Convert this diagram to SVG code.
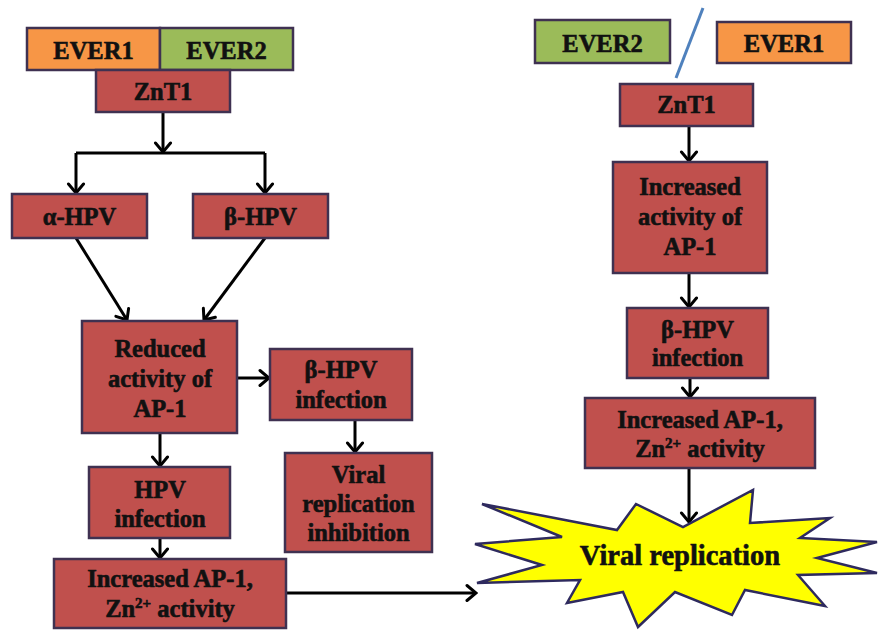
<svg xmlns="http://www.w3.org/2000/svg" width="880" height="630" viewBox="0 0 880 630">
<style>
.box{fill:#C0504D;stroke:#3F3151;stroke-width:2.5}
.or{fill:#F79646;stroke:#3F3151;stroke-width:2.5}
.gr{fill:#9BBB59;stroke:#3F3151;stroke-width:2.5}
text{font-family:"Liberation Serif","Times New Roman",serif;font-weight:bold;font-size:24.5px;fill:#111;stroke:#111;stroke-width:0.6;text-anchor:middle}
.big{font-size:28.5px}
.sup{font-size:15px}
.c{fill:none;stroke:#000;stroke-width:3;marker-end:url(#ah)}
.l{fill:none;stroke:#000;stroke-width:3}
</style>
<defs>
<marker id="ah" markerUnits="userSpaceOnUse" viewBox="-12 -10 14 20" markerWidth="14" markerHeight="20" refX="0" refY="0" orient="auto">
<path d="M-9,-7.5 L0,0 L-9,7.5" fill="none" stroke="#000" stroke-width="3" stroke-linecap="round" stroke-linejoin="miter"/>
</marker>
</defs>
<rect width="880" height="630" fill="#fff"/>
<g id="connectors">
<path class="c" d="M163,112 V152"/>
<path class="l" d="M76,153 H265"/>
<path class="c" d="M76,153 V193"/>
<path class="c" d="M265,153 V193"/>
<path class="c" d="M76,238 L127,320"/>
<path class="c" d="M265,238 L204,320"/>
<path class="c" d="M237,378 H269"/>
<path class="c" d="M355,420 V452"/>
<path class="c" d="M160,433 V466"/>
<path class="c" d="M160,538 V558"/>
<path class="c" d="M286,593 H476"/>
<path class="c" d="M689,126 V161"/>
<path class="c" d="M689,273 V307"/>
<path class="c" d="M690,378 V397"/>
<path class="c" d="M689,468 V522"/>
<path d="M703,8 L676,78" stroke="#4F81BD" stroke-width="3" fill="none"/>
</g>
<g id="ever1-left"><rect class="or" x="27" y="28" width="133" height="42"/><text x="93.5" y="59">EVER1</text></g>
<g id="ever2-left"><rect class="gr" x="160" y="28" width="133" height="42"/><text x="226.5" y="59">EVER2</text></g>
<g id="znt1-left"><rect class="box" x="96" y="70" width="134" height="42"/><text x="163" y="100">ZnT1</text></g>
<g id="alpha-hpv"><rect class="box" x="12" y="194" width="135" height="44"/><text x="79.5" y="225">α-HPV</text></g>
<g id="beta-hpv"><rect class="box" x="193" y="194" width="135" height="44"/><text x="260.5" y="225">β-HPV</text></g>
<g id="reduced"><rect class="box" x="82" y="321" width="155" height="112"/><text x="160" y="357">Reduced</text><text x="160" y="387">activity of</text><text x="160" y="417">AP-1</text></g>
<g id="beta-infection-left"><rect class="box" x="270" y="349" width="142" height="71"/><text x="341" y="378">β-HPV</text><text x="341" y="408">infection</text></g>
<g id="inhibition"><rect class="box" x="285" y="453" width="147" height="99"/><text x="358.5" y="483">Viral</text><text x="358.5" y="512">replication</text><text x="358.5" y="541">inhibition</text></g>
<g id="hpv-infection"><rect class="box" x="89" y="467" width="141" height="71"/><text x="160" y="498">HPV</text><text x="160" y="527">infection</text></g>
<g id="increased-left"><rect class="box" x="54" y="559" width="232" height="69"/><text x="170" y="587">Increased AP-1,</text><text x="170" y="617">Zn<tspan class="sup" dy="-9">2+</tspan><tspan dy="9"> activity</tspan></text></g>
<g id="ever2-right"><rect class="gr" x="535" y="20" width="135" height="43"/><text x="602.5" y="52">EVER2</text></g>
<g id="ever1-right"><rect class="or" x="717" y="22" width="134" height="41"/><text x="784" y="52">EVER1</text></g>
<g id="znt1-right"><rect class="box" x="620" y="84" width="133" height="42"/><text x="686.5" y="113">ZnT1</text></g>
<g id="increased-activity"><rect class="box" x="613" y="162" width="154" height="111"/><text x="690" y="195">Increased</text><text x="690" y="225">activity of</text><text x="690" y="255">AP-1</text></g>
<g id="beta-infection-right"><rect class="box" x="627" y="308" width="141" height="70"/><text x="697.5" y="338">β-HPV</text><text x="697.5" y="366">infection</text></g>
<g id="increased-right"><rect class="box" x="585" y="398" width="230" height="70"/><text x="700" y="428">Increased AP-1,</text><text x="700" y="457">Zn<tspan class="sup" dy="-9">2+</tspan><tspan dy="9"> activity</tspan></text></g>
<g id="viral-replication"><path d="M482,504 L617,530 L636,504 L683,527 L753,490 L750,523 L830,518 L800,538 L877,542 L817,558 L877,573 L798,575 L825,606 L745,590 L732,615 L675,592 L638,627 L623,592 L567,603 L580,580 L477,583 L542,565 L475,544 L562,537 Z" fill="#FFFF00" stroke="#2E2A5E" stroke-width="2.5" stroke-linejoin="miter"/><text class="big" x="680" y="565">Viral replication</text></g>
</svg>
